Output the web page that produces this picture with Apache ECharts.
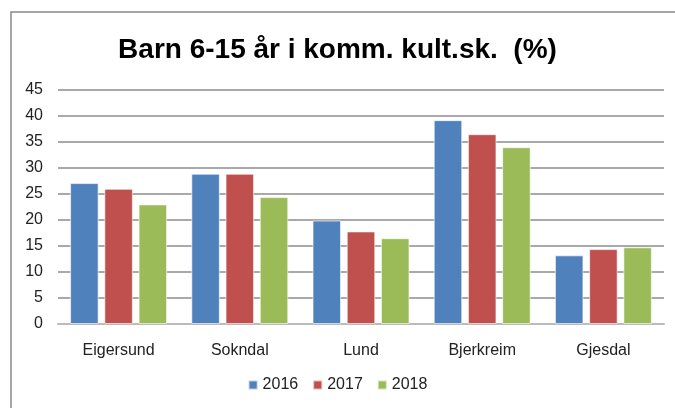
<!DOCTYPE html>
<html>
<head>
<meta charset="utf-8">
<script src="https://cdn.jsdelivr.net/npm/echarts@6/dist/echarts.min.js"></script>
<style>
  html, body { margin: 0; padding: 0; background: #fff; }
  #charts { width: 675px; height: 408px; }
</style>
</head>
<body>
<div id="charts"></div>
<script>
// kommuner og år
var kommuner = ['Eigersund', 'Sokndal', 'Lund', 'Bjerkreim', 'Gjesdal'];
var aar = ['2016', '2017', '2018'];
// andel barn 6-15 år i kommunal kulturskole (%)
var v2016 = [27.1, 28.9, 19.9, 39.2, 13.2];
var v2017 = [26.0, 28.9, 17.8, 36.5, 14.4];
var v2018 = [23.0, 24.4, 16.5, 34.0, 14.75];
var farger = ['#4F81BD', '#C0504D', '#9BBB59'];

var myChart = echarts.init(document.getElementById('charts'));

var font = 'Liberation Sans, Arial, sans-serif';

var series = [v2016, v2017, v2018].map(function (d, i) {
    return {
        name: aar[i],
        type: 'bar',
        data: d,
        barGap: '20%',
        barCategoryGap: '20%',
        itemStyle: {
            color: farger[i],
            borderColor: 'rgba(255,255,255,0.6)',
            borderWidth: 1
        }
    };
});

var option = {
    animation: false,
    textStyle: { fontFamily: font },
    graphic: [{
        type: 'rect',
        shape: { x: 11, y: 12, width: 700, height: 420 },
        style: { fill: 'none', stroke: '#888', lineWidth: 1.5 },
        z: -1
    }],
    title: {
        text: 'Barn 6-15 år i komm. kult.sk.  (%)',
        left: 'center',
        top: 31,
        textStyle: { fontSize: 28, fontWeight: 'bold', color: '#000', fontFamily: font }
    },
    legend: {
        data: aar,
        bottom: 10,
        left: 'center',
        itemWidth: 9,
        itemHeight: 9,
        itemGap: 14,
        icon: 'rect',
        textStyle: { fontSize: 16, color: '#222', fontFamily: font }
    },
    grid: { left: 58, right: 11, top: 90, bottom: 84 },
    xAxis: {
        type: 'category',
        data: kommuner,
        axisLine: { lineStyle: { color: '#bbb', width: 2 } },
        axisTick: { show: false },
        axisLabel: { fontSize: 16, color: '#222', margin: 19 }
    },
    yAxis: {
        type: 'value',
        min: 0,
        max: 45,
        interval: 5,
        axisLine: { show: false },
        axisTick: { show: false },
        axisLabel: { fontSize: 16, color: '#222', margin: 15 },
        splitLine: { lineStyle: { color: '#8c8c8c', width: 1.5 } }
    },
    series: series
};

myChart.setOption(option);
</script>
</body>
</html>
